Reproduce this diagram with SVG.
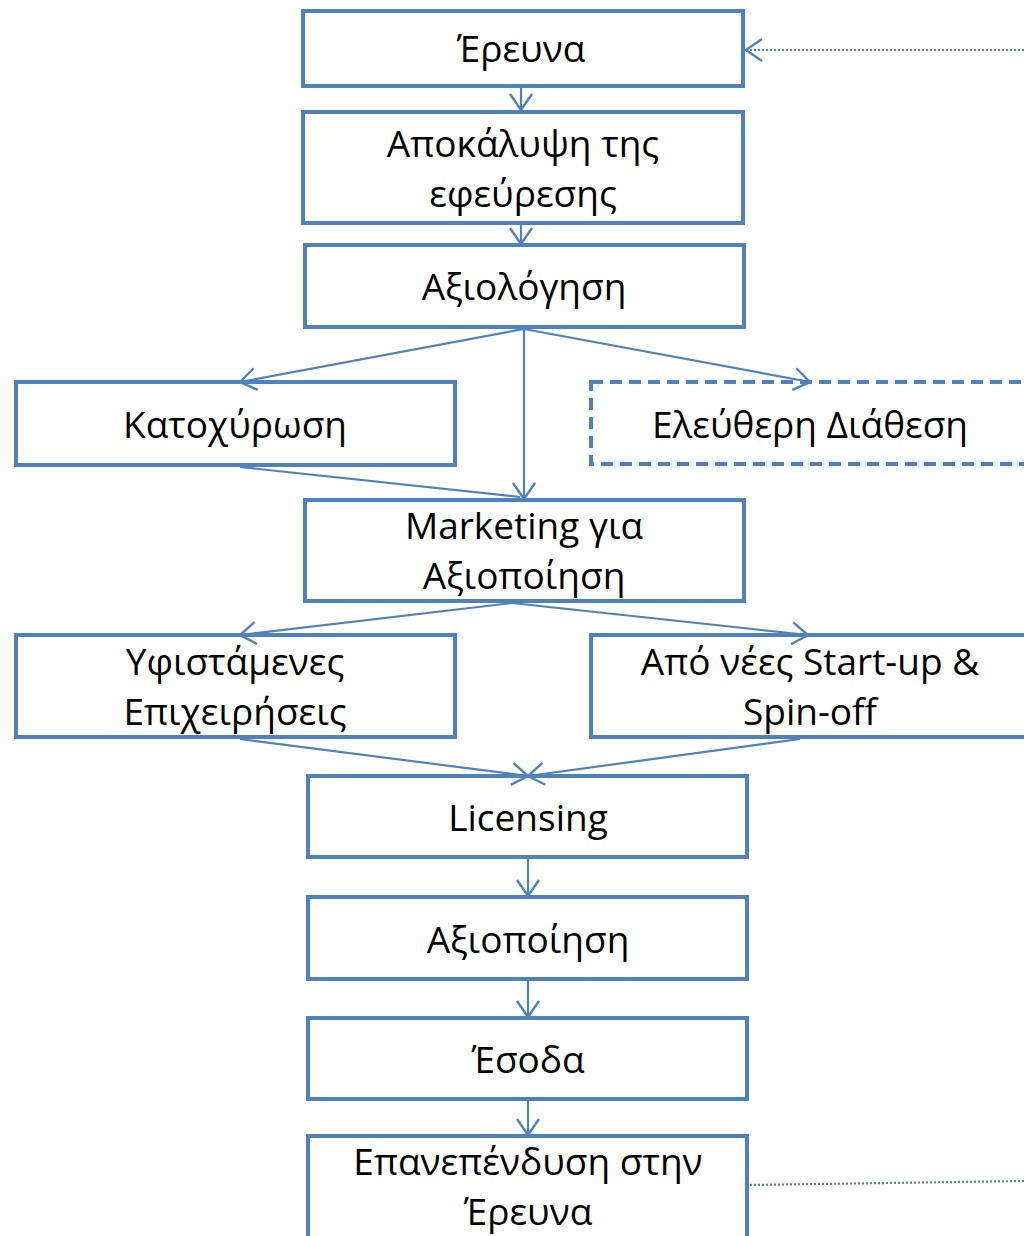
<svg xmlns="http://www.w3.org/2000/svg" width="1024" height="1236" viewBox="0 0 1024 1236">
<style>
.box{fill:#fff;stroke:#4F81BD;stroke-width:4}
.dash{stroke-dasharray:12 7}
.t{font-family:"Open Sans","Liberation Sans",sans-serif;font-size:37px;fill:#000;text-anchor:middle}
.c{fill:none;stroke:#4F81BD;stroke-width:2.2}
.dot{fill:none;stroke:#4F81BD;stroke-width:2.2;stroke-dasharray:2 2}
</style>
<defs>
<marker id="a" markerUnits="userSpaceOnUse" markerWidth="22" markerHeight="26" refX="18" refY="13" orient="auto" viewBox="0 0 22 26">
<path d="M2,2 L18,13 L2,24" fill="none" stroke="#4F81BD" stroke-width="2.4"/>
</marker>
</defs>
<rect width="1024" height="1236" fill="#fff"/>
<g id="n1"><rect class="box" x="303" y="11" width="440" height="75"/><text class="t" x="521" y="62">Έρευνα</text></g>
<g id="n2"><rect class="box" x="303" y="112" width="440" height="111"/><text class="t" x="523" y="157">Αποκάλυψη της</text><text class="t" x="523" y="207">εφεύρεσης</text></g>
<g id="n3"><rect class="box" x="305" y="245" width="439" height="82"/><text class="t" x="524" y="300">Αξιολόγηση</text></g>
<g id="n4"><rect class="box" x="16" y="382" width="439" height="83"/><text class="t" x="235" y="438">Κατοχύρωση</text></g>
<g id="n5"><rect class="box dash" x="591" y="382" width="445" height="82"/><text class="t" x="810" y="438">Ελεύθερη Διάθεση</text></g>
<g id="n6"><rect class="box" x="305" y="500" width="439" height="101"/><text class="t" x="524" y="539">Marketing για</text><text class="t" x="524" y="589">Αξιοποίηση</text></g>
<g id="n7"><rect class="box" x="16" y="635" width="439" height="102"/><text class="t" x="235" y="675">Υφιστάμενες</text><text class="t" x="235" y="725">Επιχειρήσεις</text></g>
<g id="n8"><rect class="box" x="591" y="635" width="445" height="102"/><text class="t" x="810" y="675">Από νέες Start-up &amp;</text><text class="t" x="810" y="725">Spin-off</text></g>
<g id="n9"><rect class="box" x="308" y="776" width="439" height="81"/><text class="t" x="528" y="831">Licensing</text></g>
<g id="n10"><rect class="box" x="308" y="897" width="439" height="82"/><text class="t" x="528" y="953">Αξιοποίηση</text></g>
<g id="n11"><rect class="box" x="308" y="1018" width="439" height="81"/><text class="t" x="528" y="1073">Έσοδα</text></g>
<g id="n12"><rect class="box" x="308" y="1136" width="439" height="110"/><text class="t" x="528" y="1175">Επανεπένδυση στην</text><text class="t" x="528" y="1225">Έρευνα</text></g>
<g id="connectors">
<line class="c" x1="521" y1="88" x2="521" y2="110" marker-end="url(#a)"/>
<line class="c" x1="521" y1="225" x2="521" y2="244" marker-end="url(#a)"/>
<line class="c" x1="524" y1="329" x2="240" y2="382" marker-end="url(#a)"/>
<line class="c" x1="524" y1="329" x2="810" y2="382" marker-end="url(#a)"/>
<line class="c" x1="524" y1="329" x2="524" y2="499" marker-end="url(#a)"/>
<line class="c" x1="240" y1="467" x2="520" y2="497"/>
<line class="c" x1="512" y1="603" x2="240" y2="635" marker-end="url(#a)"/>
<line class="c" x1="512" y1="603" x2="808" y2="635" marker-end="url(#a)"/>
<line class="c" x1="240" y1="739" x2="528" y2="776" marker-end="url(#a)"/>
<line class="c" x1="800" y1="739" x2="528" y2="776" marker-end="url(#a)"/>
<line class="c" x1="528" y1="859" x2="528" y2="896" marker-end="url(#a)"/>
<line class="c" x1="528" y1="981" x2="528" y2="1017" marker-end="url(#a)"/>
<line class="c" x1="528" y1="1101" x2="528" y2="1135" marker-end="url(#a)"/>
<line class="dot" x1="1024" y1="50" x2="746" y2="50" marker-end="url(#a)"/>
<line class="dot" x1="750" y1="1185" x2="1024" y2="1181"/>
</g>
</svg>
